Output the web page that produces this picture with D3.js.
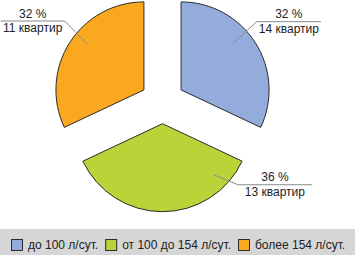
<!DOCTYPE html>
<html><head><meta charset="utf-8">
<script src="https://cdn.jsdelivr.net/npm/d3@7/dist/d3.min.js"></script>
<style>
html,body{margin:0;padding:0;background:#fff;}
svg{display:block;font-family:"Liberation Sans",Arial,Helvetica,sans-serif;}
</style></head>
<body><svg id="c" width="355" height="255"></svg>
<script>
const categories = ["до 100 л/сут.", "от 100 до 154 л/сут.", "более 154 л/сут."];
const percents = [32, 36, 32];
const counts = [14, 13, 11];
const colors = ["#93acdc", "#b8d438", "#f9a820"];

// layout for leader lines (angles in degrees, clockwise from top)
const labelLayout = [
  {inA: 48, inR: 70, kA: 48, kR: 102, len: 64},
  {inA: 135, inR: 72, kA: 129, kR: 97, len: 74},
  {inA: 309, inR: 73, kA: 311, kR: 105, len: -64}
];

const svg = d3.select("#c");
const cx = 162.5, cy = 101.7, R = 88, explode = 22;

const pie = d3.pie().sort(null).value(d => d)(percents);
const arc = d3.arc().innerRadius(0).outerRadius(R);

const g = svg.append("g").attr("transform", `translate(${cx},${cy})`);
const pt = (a, r) => [Math.sin(a) * r, -Math.cos(a) * r];
const rad = d => d * Math.PI / 180;

pie.forEach((p, i) => {
  const mid = (p.startAngle + p.endAngle) / 2;
  const [ox, oy] = pt(mid, explode);
  const sg = g.append("g").attr("transform", `translate(${ox},${oy})`);
  sg.append("path").attr("d", arc(p)).attr("fill", colors[i])
    .attr("stroke", "#2b2b2b").attr("stroke-width", 1).attr("stroke-linejoin", "miter");
  const L = labelLayout[i];
  const P = pt(rad(L.inA), L.inR), K = pt(rad(L.kA), L.kR);
  const E = [K[0] + L.len, K[1]];
  sg.append("polyline").attr("points", [P, K, E].map(q => q.join(",")).join(" "))
    .attr("fill", "none").attr("stroke", "#8a8a8a").attr("stroke-width", 1);
  const tx = (K[0] + E[0]) / 2;
  sg.append("text").attr("x", tx).attr("y", K[1] - 3.5).attr("text-anchor", "middle")
    .attr("font-size", 12).attr("fill", "#222").text(percents[i] + " %");
  sg.append("text").attr("x", tx).attr("y", K[1] + 11).attr("text-anchor", "middle")
    .attr("font-size", 12).attr("fill", "#222").text(counts[i] + " квартир");
});

// legend
const lg = svg.append("g");
lg.append("rect").attr("x", 0).attr("y", 229).attr("width", 355).attr("height", 26).attr("fill", "#d6d6d6");
let x = 11;
categories.forEach((c, i) => {
  lg.append("rect").attr("x", x + 0.5).attr("y", 239.5).attr("width", 11).attr("height", 11)
    .attr("fill", colors[i]).attr("stroke", "#2b2b2b").attr("stroke-width", 1);
  const t = lg.append("text").attr("x", x + 17).attr("y", 248.5).attr("font-size", 12)
    .attr("fill", "#222").text(c);
  x = x + 17 + t.node().getComputedTextLength() + 7;
});
</script></body></html>
